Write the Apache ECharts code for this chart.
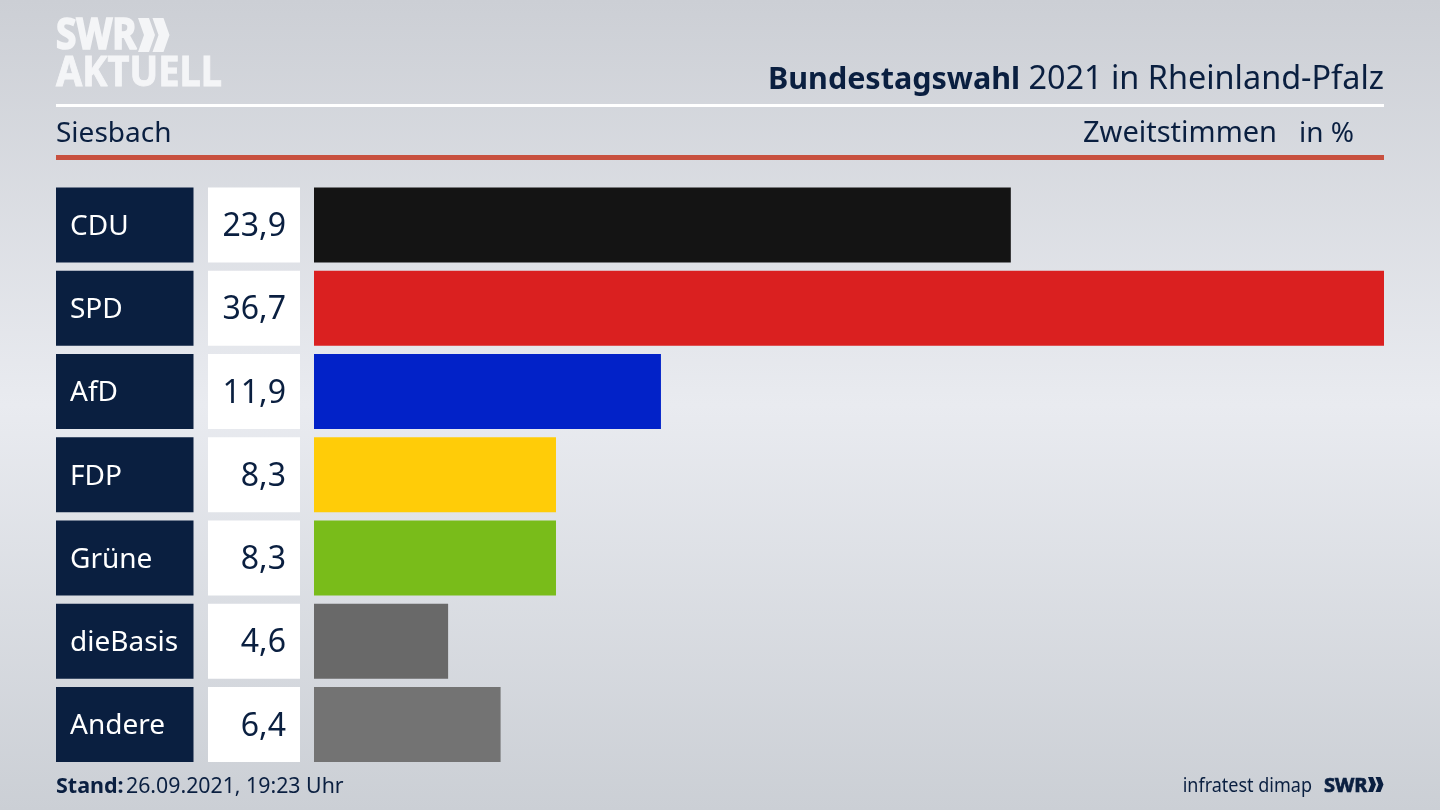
<!DOCTYPE html>
<html>
<head>
    <meta charset="utf-8">
    <title>Bundestagswahl 2021 in Rheinland-Pfalz</title>
    <script src="https://cdn.jsdelivr.net/npm/echarts@6/dist/echarts.min.js"></script>
    <style type="text/css">
        * { margin: 0; padding: 0; }
        #main { width: 1440px; height: 810px; }
    </style>
</head>
<body>
<div id="main"></div>
<script type="text/javascript">
    var parties = ['CDU', 'SPD', 'AfD', 'FDP', 'Grüne', 'dieBasis', 'Andere'];
    var shares = [23.9, 36.7, 11.9, 8.3, 8.3, 4.6, 6.4];
    var partyColors = ['#141414', '#da2020', '#0222c8', '#ffcc08', '#79bc1a', '#696969', '#737373'];

    var navy = '#0a1f40';
    var font = '"Noto Sans"';
    var myChart = echarts.init(document.getElementById('main'));

    // the three columns share the same rows
    var gridTop = 183.4, gridHeight = 582.75, barHeight = 75;

    function column(left, width) {
        return { left: left, width: width, top: gridTop, height: gridHeight, containLabel: false };
    }
    function xAxis(idx, max) {
        return { gridIndex: idx, type: 'value', min: 0, max: max, show: false };
    }
    function yAxis(idx) {
        return { gridIndex: idx, type: 'category', inverse: true, data: parties, show: false };
    }
    function chevrons(x, y, h, t, d, step, fill) {
        // two arrow heads of the SWR logo
        return [0, 1].map(function (i) {
            var x0 = x + i * step;
            return {
                type: 'polygon', silent: true,
                shape: { points: [[x0, y], [x0 + t, y], [x0 + t + d, y + h / 2], [x0 + t, y + h], [x0, y + h], [x0 + d, y + h / 2]] },
                style: { fill: fill }
            };
        });
    }
    function txt(x, y, text, size, color, weight, align, extra) {
        var el = {
            type: 'text', silent: true, x: x, y: y,
            style: { text: text, font: (weight || 'normal') + ' ' + size + 'px ' + font, fill: color, textAlign: align || 'left', textVerticalAlign: 'middle' }
        };
        if (extra) {
            if (extra.scaleX) el.scaleX = extra.scaleX;
            if (extra.scaleY) el.scaleY = extra.scaleY;
            if (extra.stroke) { el.style.stroke = color; el.style.lineWidth = extra.stroke; }
        }
        return el;
    }

    var option = {
        animation: false,
        backgroundColor: new echarts.graphic.LinearGradient(0, 0, 0, 1, [
            { offset: 0, color: '#cccfd5' },
            { offset: 0.5, color: '#e9ebf0' },
            { offset: 1, color: '#cbcfd5' }
        ]),
        grid: [column(56, 137.5), column(208, 92), column(314, 1070)],
        xAxis: [xAxis(0, 1), xAxis(1, 1), xAxis(2, 36.7)],
        yAxis: [yAxis(0), yAxis(1), yAxis(2)],
        series: [
            {
                type: 'bar', xAxisIndex: 0, yAxisIndex: 0, barWidth: barHeight, silent: true,
                data: parties.map(function () { return 1; }),
                itemStyle: { color: navy },
                label: {
                    show: true, position: 'insideLeft', distance: 14, offset: [0, 2],
                    formatter: '{b}', color: '#ffffff', fontFamily: font, fontSize: 28
                }
            },
            {
                type: 'bar', xAxisIndex: 1, yAxisIndex: 1, barWidth: barHeight, silent: true,
                data: parties.map(function () { return 1; }),
                itemStyle: { color: '#ffffff' },
                label: {
                    show: true, position: 'insideRight', distance: 14, offset: [0, 2],
                    formatter: function (p) { return shares[p.dataIndex].toFixed(1).replace('.', ','); },
                    color: navy, fontFamily: font, fontSize: 32
                }
            },
            {
                type: 'bar', xAxisIndex: 2, yAxisIndex: 2, barWidth: barHeight, silent: true,
                data: shares.map(function (v, i) {
                    return { value: v, itemStyle: { color: partyColors[i] } };
                })
            }
        ],
        graphic: [
            { type: 'rect', silent: true, shape: { x: 56, y: 104, width: 1328, height: 3 }, style: { fill: '#ffffff' } },
            { type: 'rect', silent: true, shape: { x: 56, y: 155, width: 1328, height: 5 }, style: { fill: '#c8503f' } },
            txt(56, 37, 'SWR', 37, '#f4f5f7', 'bold', 'left', { scaleY: 1.15, stroke: 1.5 }),
            txt(56, 74, 'AKTUELL', 38, '#f4f5f7', 'bold', 'left', { scaleY: 1.1, stroke: 0.8 }),
            txt(56, 134, 'Siesbach', 28, navy),
            txt(1083, 134, 'Zweitstimmen', 29, navy),
            txt(1354, 134, 'in %', 28, navy, 'normal', 'right'),
            {
                type: 'text', silent: true, x: 1384, y: 80,
                style: {
                    text: '{b|Bundestagswahl} 2021 in Rheinland-Pfalz',
                    font: '32.4px ' + font, fill: navy, textAlign: 'right', textVerticalAlign: 'middle',
                    rich: { b: { font: 'bold 30.5px ' + font, fill: navy } }
                }
            },
            txt(56, 787, 'Stand:', 21.5, navy, 'bold'),
            txt(126, 787, '26.09.2021, 19:23 Uhr', 21.3, navy),
            txt(1312, 786, 'infratest dimap', 20, navy, 'normal', 'right', { scaleX: 0.9 }),
            txt(1324, 786, 'SWR', 20, navy, 'bold', 'left', { stroke: 0.7 })
        ].concat(chevrons(138, 18, 34, 11, 6, 14.5, '#f4f5f7')).concat(chevrons(1368, 777, 15, 5, 3, 7.5, navy))
    };
    myChart.setOption(option);

    window.addEventListener('resize', function () {
        myChart.resize();
    });
</script>
</body>
</html>
